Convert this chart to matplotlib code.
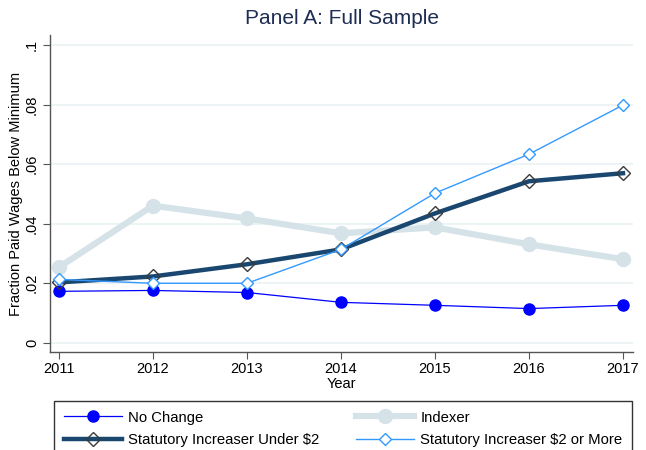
import matplotlib
matplotlib.use("Agg")
import matplotlib.pyplot as plt
from matplotlib.ticker import FixedLocator, FuncFormatter

plt.rcParams['font.family'] = ['Liberation Sans', 'DejaVu Sans']

years = [2011, 2012, 2013, 2014, 2015, 2016, 2017]
no_change = [0.0172, 0.0175, 0.0168, 0.0135, 0.0125, 0.0114, 0.0125]
indexer = [0.0253, 0.0460, 0.0417, 0.0367, 0.0387, 0.0330, 0.0280]
under_2 = [0.0202, 0.0222, 0.0263, 0.0313, 0.0434, 0.0542, 0.0569]
over_2 = [0.0212, 0.0199, 0.0199, 0.0313, 0.0502, 0.0633, 0.0798]
y_ticks = [0, 0.02, 0.04, 0.06, 0.08, 0.1]
labels = ["No Change", "Indexer", "Statutory Increaser Under $2", "Statutory Increaser $2 or More"]

fig = plt.figure(figsize=(6.46, 4.5), dpi=100)
ax = fig.add_axes([50/646, 1-352/450, 583/646, 317/450])

grid_c = '#eaf2f3'
for t in y_ticks:
    ax.axhline(t, color=grid_c, lw=1.2, zorder=0)

l_nc, = ax.plot(years, no_change, color='#0000ff', lw=0.9, marker='o', ms=8,
                mfc='#0000ff', mec='#0000ff', zorder=3)
l_ix, = ax.plot(years, indexer, color='#d5e2e8', lw=4.5, marker='o', ms=10,
                mfc='#d5e2e8', mec='#d5e2e8', zorder=2)
l_u2, = ax.plot(years, under_2, color='#1a476f', lw=3.2, marker='D', ms=7,
                mfc='none', mec='#3a3a3a', mew=1.0, zorder=4)
l_o2, = ax.plot(years, over_2, color='#3399ff', lw=1.0, marker='D', ms=6.5,
                mfc='white', mec='#3399ff', mew=1.0, zorder=5)

ax.set_xlim(2011 - 9/94, 2017 + 10/94)
ax.set_ylim(-9.5/2975, 0.1 + 10/2975)

for s in ['top', 'right']:
    ax.spines[s].set_visible(False)
for s in ['left', 'bottom']:
    ax.spines[s].set_color('#555555')
    ax.spines[s].set_linewidth(1.0)

ax.set_xticks(years)
ax.set_xticklabels([str(y) for y in years], fontsize=10.5)
ax.yaxis.set_major_locator(FixedLocator(y_ticks))
ax.yaxis.set_major_formatter(FuncFormatter(lambda v, p: '0' if v == 0 else ('%g' % v).lstrip('0')))
ax.tick_params(axis='y', labelsize=10.5, length=5, color='#555555', pad=3)
ax.tick_params(axis='x', length=5, color='#555555', pad=2)
for lab in ax.get_yticklabels():
    lab.set_rotation(90)
    lab.set_va('center')
ax.set_xlabel('Year', fontsize=10.5, labelpad=1)
ax.set_ylabel('Fraction Paid Wages Below Minimum', fontsize=10.5, labelpad=1)

fig.text(342/646, 1 - 18/450, 'Panel A: Full Sample', ha='center', va='center',
         fontsize=15, color='#1e2d53')

leg = fig.legend([l_nc, l_u2, l_ix, l_o2],
                 [labels[0], labels[2], labels[1], labels[3]], ncol=2,
                 loc='upper left', bbox_to_anchor=(54/646, -10/450, 578/646, 59/450),
                 mode='expand', frameon=True, fancybox=False, fontsize=10.7,
                 handlelength=3.9, handletextpad=0.45, borderaxespad=0.0,
                 labelspacing=0.55, borderpad=0.65)
leg.get_frame().set_edgecolor('black')
leg.get_frame().set_linewidth(1.0)

fig.savefig('out.png', dpi=100)
